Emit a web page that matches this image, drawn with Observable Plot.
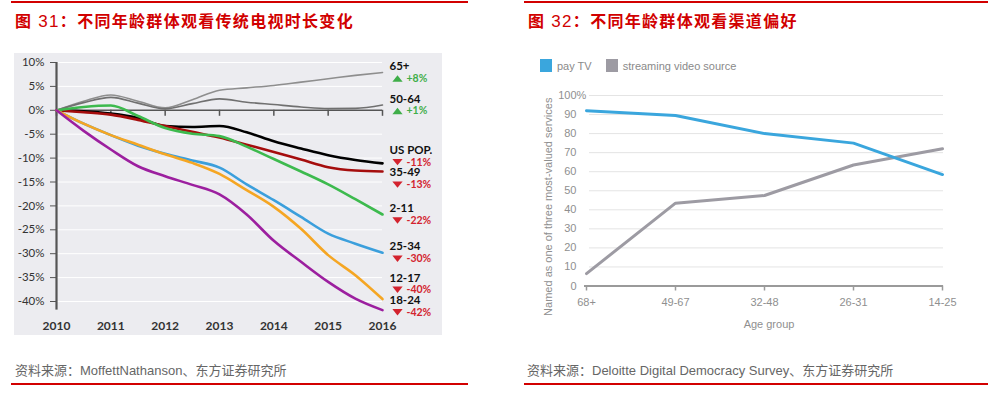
<!DOCTYPE html>
<html><head><meta charset="utf-8">
<script src="https://cdn.jsdelivr.net/npm/d3@7"></script>
<script src="https://cdn.jsdelivr.net/npm/@observablehq/plot@0.6"></script>
<style>
html,body{margin:0;padding:0;background:#fff;}
body{width:988px;height:394px;position:relative;overflow:hidden;font-family:"Liberation Sans",Arial,"Noto Sans CJK SC",sans-serif;}
.rule{position:absolute;height:2px;background:#d20000;}
.title{position:absolute;font-family:"Noto Sans CJK SC",sans-serif;font-weight:700;font-size:16px;letter-spacing:1.3px;color:#d10000;line-height:20px;white-space:nowrap;}
.title .num{font-weight:400;font-family:"Liberation Sans",Arial,sans-serif;font-size:17px;}
.caption{position:absolute;font-family:"Liberation Sans",Arial,"Noto Sans CJK SC",sans-serif;font-size:13px;color:#666;white-space:nowrap;line-height:16px;}
#left{position:absolute;left:14px;top:53px;}
#right{position:absolute;left:530px;top:80px;}
#legend{position:absolute;left:540px;top:59px;display:flex;align-items:center;font-family:"Liberation Sans",Arial,sans-serif;font-size:11px;color:#8a8a8a;white-space:nowrap;}
#legend .sw{display:inline-block;width:12px;height:13px;margin-right:5px;}
#legend .item{display:flex;align-items:center;margin-right:14px;}
</style>
</head><body>
<div class="rule" style="left:11px;top:1px;width:457px"></div>
<div class="rule" style="left:524px;top:1px;width:464px"></div>
<div class="title" style="left:15px;top:10px">图<span class="num"> 31</span>：不同年龄群体观看传统电视时长变化</div>
<div class="title" style="left:528px;top:10px">图<span class="num"> 32</span>：不同年龄群体观看渠道偏好</div>
<div id="left"></div>
<div id="legend"></div>
<div id="right"></div>
<div class="caption" style="left:15px;top:363px">资料来源：MoffettNathanson、东方证券研究所</div>
<div class="caption" style="left:527px;top:363px">资料来源：Deloitte Digital Democracy Survey、东方证券研究所</div>
<div class="rule" style="left:11px;top:383px;width:457px"></div>
<div class="rule" style="left:524px;top:383px;width:464px"></div>
<script>
// ---------- Left chart data ----------
const years = [2010, 2010.5, 2011, 2011.5, 2012, 2012.5, 2013, 2013.5, 2014, 2014.5, 2015, 2015.5, 2016];
const yearTicks = [2010, 2011, 2012, 2013, 2014, 2015, 2016];
const leftYTicks = [10, 5, 0, -5, -10, -15, -20, -25, -30, -35, -40];
const seriesNames = ["65+", "50-64", "US POP.", "35-49", "2-11", "25-34", "12-17", "18-24"];
const s65plus = [0, 1.9, 3.2, 1.9, 0.5, 2.2, 4.2, 4.7, 5.2, 5.9, 6.6, 7.3, 7.9];
const s50to64 = [0, 1.6, 2.7, 1.5, 0.3, 1.4, 2.4, 1.7, 1.2, 0.7, 0.35, 0.4, 1.1];
const sUSPop = [0, -0.2, -0.7, -1.6, -3.3, -3.5, -3.3, -4.6, -6.5, -8.0, -9.4, -10.4, -11.1];
const s35to49 = [0, -0.4, -0.9, -2.0, -3.3, -4.5, -5.7, -7.2, -8.7, -10.3, -11.9, -12.6, -12.8];
const s2to11 = [0, 0.7, 1.0, -1.2, -3.7, -4.9, -5.4, -7.6, -10.2, -12.8, -15.5, -18.6, -21.8];
const s25to34 = [0, -2.8, -5.2, -7.4, -9.1, -10.5, -12.0, -15.5, -18.8, -22.3, -25.8, -27.9, -29.8];
const s12to17 = [0, -2.8, -5.2, -7.2, -9.2, -11.0, -13.3, -16.7, -20.2, -24.8, -30.3, -34.5, -39.5];
const s18to24 = [0, -4.3, -8.2, -11.7, -13.8, -15.6, -17.6, -21.8, -27.3, -31.7, -35.9, -39.4, -41.8];
const seriesChange = [8, 1, -11, -13, -22, -30, -40, -42];

// ---------- Right chart data ----------
const ageGroups = ["68+", "49-67", "32-48", "26-31", "14-25"];
const payTV = [92, 89.5, 80, 75, 58.5];
const streaming = [6.5, 43.5, 47.5, 63.5, 72];
const rightYTicks = [0, 10, 20, 30, 40, 50, 60, 70, 80, 90, 100];
const legendNames = ["pay TV", "streaming video source"];
const rightXLabel = "Age group";
const rightYLabel = "Named as one of three most-valued services";

// ---------- Styles ----------
const seriesData = [s65plus, s50to64, sUSPop, s35to49, s2to11, s25to34, s12to17, s18to24];
const seriesColors = ["#8e8e8e", "#707070", "#000000", "#a50d0d", "#3dba4e", "#3b9fdc", "#f5a623", "#9c1f9f"];
const seriesWidths = [1.6, 1.6, 2.6, 2.6, 2.6, 2.6, 2.6, 2.6];
const upColor = "#3fae49", downColor = "#d3232e";
const leftFont = "Lato, 'Open Sans', sans-serif";

const triUp = {draw(ctx, size) { const w = Math.sqrt(size), h = w * 0.62; ctx.moveTo(0, -h / 2); ctx.lineTo(w / 2, h / 2); ctx.lineTo(-w / 2, h / 2); ctx.closePath(); }};
const triDown = {draw(ctx, size) { const w = Math.sqrt(size), h = w * 0.62; ctx.moveTo(0, h / 2); ctx.lineTo(w / 2, -h / 2); ctx.lineTo(-w / 2, -h / 2); ctx.closePath(); }};

// label placement: start at line end, push apart to avoid overlap
const ends = seriesData.map(s => s[s.length - 1]);
const order = d3.range(ends.length).sort((a, b) => ends[b] - ends[a]);
const pos = ends.slice();
const gap = 4.7, minPos = -41;
for (let it = 0; it < 200; it++) {
  for (let k = 0; k < order.length - 1; k++) {
    const a = order[k], b = order[k + 1];
    const d = pos[a] - pos[b];
    if (d < gap) { const s = (gap - d) / 2; pos[a] += s; pos[b] -= s; }
  }
  for (const i of order) if (pos[i] < minPos) pos[i] = minPos;
}
const labelRows = seriesNames.map((name, i) => ({
  name, change: seriesChange[i], x: years[years.length - 1],
  nameY: pos[i] + 1.25, chgY: pos[i] - 1.25
}));

const lineMarks = seriesNames.map((name, i) =>
  Plot.line(years.map((yr, j) => ({year: yr, value: seriesData[i][j]})),
    {x: "year", y: "value", stroke: seriesColors[i], strokeWidth: seriesWidths[i], curve: "monotone-x"})
);

const left = Plot.plot({
  width: 428, height: 282,
  marginLeft: 42, marginRight: 60, marginTop: 9, marginBottom: 34,
  style: {background: "#ececf0", fontFamily: leftFont, fontSize: "11px", color: "#333", overflow: "visible"},
  x: {domain: [2010, 2016], label: null},
  y: {domain: [-40, 10], label: null},
  marks: [
    Plot.gridY(leftYTicks, {stroke: "#ffffff", strokeOpacity: 1, strokeWidth: 1}),
    Plot.axisY(leftYTicks, {label: null, tickSize: 6, tickPadding: 6, stroke: "#555", tickFormat: d => d + "%", fontSize: 11.5, fill: "#333"}),
    Plot.axisX(yearTicks, {label: null, tickSize: 0, tickPadding: 20, tickFormat: d => String(d), fontWeight: "bold", fontSize: 12, fill: "#333"}),
    Plot.ruleY([0], {stroke: "#555", strokeWidth: 1.5}),
    Plot.ruleX(yearTicks, {y1: 0, y2: 0, insetBottom: -6, stroke: "#555", strokeWidth: 1.5}),
    Plot.ruleX([yearTicks[0]], {y1: leftYTicks[0], y2: d3.min(ends), stroke: "#555", strokeWidth: 2.2}),
    ...lineMarks,
    Plot.text(labelRows, {x: "x", y: "nameY", text: "name", textAnchor: "start", dx: 7, fontWeight: "bold", fontSize: 11.5, fill: "#111"}),
    Plot.dot(labelRows.filter(d => d.change > 0), {x: "x", y: "chgY", symbol: triUp, r: 5.8, fill: upColor, stroke: "none", dx: 15}),
    Plot.dot(labelRows.filter(d => d.change < 0), {x: "x", y: "chgY", symbol: triDown, r: 5.8, fill: downColor, stroke: "none", dx: 15}),
    Plot.text(labelRows, {x: "x", y: "chgY", text: d => (d.change > 0 ? "+" : "") + d.change + "%", textAnchor: "start", dx: 24, fontWeight: "bold", fontSize: 10.5, fill: d => d.change > 0 ? upColor : downColor})
  ]
});
document.getElementById("left").appendChild(left);

// ---------- Right chart ----------
const rightColors = ["#3aa6dd", "#9d9ba3"];
const rightFont = "'Liberation Sans', Arial, sans-serif";
const lg = document.getElementById("legend");
legendNames.forEach((n, i) => {
  const it = document.createElement("span"); it.className = "item";
  const sw = document.createElement("span"); sw.className = "sw"; sw.style.background = rightColors[i];
  it.appendChild(sw); it.appendChild(document.createTextNode(n)); lg.appendChild(it);
});

const rows = (vals) => ageGroups.map((g, i) => ({g, v: vals[i]}));
const right = Plot.plot({
  width: 440, height: 255,
  marginLeft: 54, marginRight: 27, marginTop: 15, marginBottom: 49.5,
  style: {background: "transparent", fontFamily: rightFont, fontSize: "11px", color: "#8f8f8f", overflow: "visible"},
  x: {type: "point", domain: ageGroups, padding: 0, label: null},
  y: {domain: [0, 100], label: null},
  marks: [
    Plot.gridY(rightYTicks, {stroke: "#e4e4e4", strokeOpacity: 1, insetLeft: 5}),
    Plot.axisY(rightYTicks, {label: null, tickSize: 0, tickPadding: 8, tickFormat: d => String(d), fill: "#8f8f8f", fontSize: 11}),
    Plot.text([rightYTicks[rightYTicks.length - 1]], {y: d => d, frameAnchor: "left", text: () => "%", textAnchor: "start", dx: -8, fill: "#8f8f8f", fontSize: 11}),
    Plot.ruleY([0], {stroke: "#9a9a9a", strokeWidth: 2}),
    Plot.axisX(ageGroups, {label: null, tickSize: 5, tickPadding: 7, stroke: "#9a9a9a", strokeWidth: 1.5, fill: "#8f8f8f", fontSize: 11}),
    Plot.text([rightXLabel], {frameAnchor: "bottom", dy: 41.5, dx: 5, fill: "#8f8f8f", fontSize: 11}),
    Plot.text([rightYLabel], {frameAnchor: "left", textAnchor: "middle", rotate: -90, dx: -36, dy: 16, fill: "#8f8f8f", fontSize: 11}),
    Plot.line(rows(streaming), {x: "g", y: "v", stroke: rightColors[1], strokeWidth: 3}),
    Plot.line(rows(payTV), {x: "g", y: "v", stroke: rightColors[0], strokeWidth: 3})
  ]
});
document.getElementById("right").appendChild(right);
</script>
</body></html>
